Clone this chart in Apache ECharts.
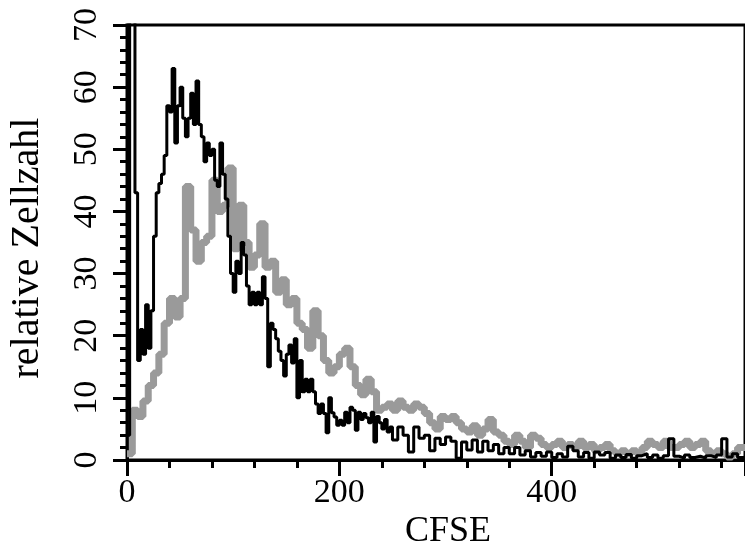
<!DOCTYPE html>
<html><head><meta charset="utf-8">
<script src="https://cdn.jsdelivr.net/npm/echarts@6/dist/echarts.min.js"></script>
<style>
html,body{margin:0;padding:0;background:#fff}
#wrap{position:relative;width:745px;height:549px}
.layer{position:absolute;left:0;top:0;width:745px;height:549px}
</style>
</head><body>
<div id="wrap">
  <div id="axesLayer" class="layer"></div>
  <div id="dataLayer" class="layer"></div>
  <div id="minorLayer" class="layer"></div>
</div>
<script>
// Axis ticks and titles
const xTicks = [0, 200, 400];
const yTicks = [0, 10, 20, 30, 40, 50, 60, 70];
const xTitle = 'CFSE';
const yTitle = 'relative Zellzahl';

// Black histogram: first part read at 2.5-unit channels (CFSE 0 .. 247.5)
const blackFineStep = 2.5;
const blackFine = [
  4, 95, 95, 43, 16, 21, 17, 25, 18, 24,
  36, 43, 44.5, 46, 49, 57, 56, 63, 51, 57,
  60, 55, 52, 55, 59, 54, 61, 54, 52, 48,
  51, 49, 50, 45, 44, 51, 46, 42, 36, 30,
  27, 32, 30, 35, 33, 28, 25, 27, 25, 27,
  25, 29.5, 26, 15, 22, 21, 19.5, 17.5, 16, 13.5,
  17, 18.5, 15.6, 19.5, 10, 16, 11, 13, 11, 13,
  11, 9, 7.5, 9, 7.5, 4.4, 10, 7.6, 6.9, 5.6,
  6.4, 5.6, 7.7, 6, 8.5, 8, 4.8, 7.7, 6.5, 7.5,
  6.8, 6, 7.7, 2.9, 7, 6, 5, 6.5, 4.5, 5.3
];
// Black histogram: tail read at 5-unit channels (CFSE 250 .. 580)
const blackCoarseStart = 250;
const blackCoarseStep = 5;
const blackCoarse = [
  3.2, 5.3, 4, 1.3, 5.3, 3.5, 4, 1.5, 3.5, 2.5,
  3.7, 3, 0.3, 2.9, 1.6, 3.2, 1.3, 3, 1.5, 2.5,
  1, 2, 1, 2, 0.8, 1.5, 0.5, 1.2, 0.6, 1.3,
  0.4, 1, 0.5, 2.2, 1.5, 0.5, 1.2, 0.3, 1.3, 0.8,
  1.2, 0.3, 0.8, 0.4, 0.9, 0.3, 0.7, 1, 0.4, 0.8,
  0.3, 0.7, 3.4, 0.6, 0.3, 0.8, 0.4, 0.6, 0.3, 0.7,
  0.4, 0.8, 3.4, 0.5, 1, 0.4, 0.5
];
// Grey histogram read at 5-unit channels (CFSE 0 .. 580)
const greyStep = 5;
const grey = [
  1, 8, 7, 9.5, 12, 14, 17, 22, 26, 23,
  26, 44, 37, 32, 35, 36, 45, 40, 41, 47,
  34, 41, 35, 31, 33, 38, 31, 32, 27, 29,
  25, 26, 22, 21, 18, 24, 20, 16, 14, 15,
  17, 18, 15, 12, 10.5, 13, 11, 8, 8.5, 9,
  8, 9.5, 8.5, 8, 9, 8.5, 7.5, 6, 5, 7,
  6.5, 7, 6, 5, 4.5, 5.5, 4, 5, 6.5, 4.5,
  4, 3, 2.5, 4, 3, 2, 4, 3.5, 2.5, 2,
  2.5, 3, 2, 2.5, 2, 3, 2, 2.5, 1.5, 2,
  2.5, 1.5, 1, 1.5, 1, 1.5, 1, 2, 3, 2.5,
  2, 3, 2, 2, 2.5, 3, 2, 2.5, 3, 1.5,
  1, 1.5, 1, 0.5, 1, 2, 2
];
const xMax = 582;
const yMax = 70;

// Build [x, y] pairs from the channel grids
const blackData = blackFine.map((v, i) => [i * blackFineStep, v])
  .concat(blackCoarse.map((v, i) => [blackCoarseStart + i * blackCoarseStep, v]));
blackData.push([blackCoarseStart + blackCoarse.length * blackCoarseStep, blackCoarse[blackCoarse.length - 1]]);
const greyData = grey.map((v, i) => [i * greyStep, v]);
greyData.push([grey.length * greyStep, grey[grey.length - 1]]);

const FONT = 'Liberation Serif';
const GRID = {left: 127, top: 25, right: 0, bottom: 89, outerBoundsMode: 'none'};

// Layer 1: axes, ticks and tick labels
const axesChart = echarts.init(document.getElementById('axesLayer'), null, {renderer: 'canvas'});
axesChart.setOption({
  animation: false,
  backgroundColor: '#fff',
  grid: GRID,
  xAxis: {
    type: 'value', position: 'bottom', min: 0, max: xMax, interval: 200,
    axisLine: {show: true, lineStyle: {color: '#000', width: 3}},
    axisTick: {show: true, length: 16, lineStyle: {color: '#000', width: 3}},
    minorTick: {show: true, splitNumber: 5, length: 8, lineStyle: {color: '#000', width: 3}},
    splitLine: {show: false},
    axisLabel: {margin: 16, fontSize: 34, fontFamily: FONT, color: '#000', showMaxLabel: false}
  },
  yAxis: {
    type: 'value', min: 0, max: yMax, interval: 10,
    axisLine: {show: true, lineStyle: {color: '#000', width: 3}},
    axisTick: {show: true, length: 14, lineStyle: {color: '#000', width: 3}},
    splitLine: {show: false},
    axisLabel: {rotate: 90, margin: 23, fontSize: 34, fontFamily: FONT, color: '#000'}
  }
});

// Layer 2: the two histograms, frame and axis titles
const dataChart = echarts.init(document.getElementById('dataLayer'), null, {renderer: 'canvas'});
dataChart.setOption({
  animation: false,
  backgroundColor: 'transparent',
  grid: Object.assign({show: true, borderColor: '#000', borderWidth: 3, backgroundColor: 'transparent'}, GRID),
  xAxis: {type: 'value', min: 0, max: xMax, show: false},
  yAxis: {type: 'value', min: 0, max: yMax, show: false},
  graphic: [{
    type: 'text', x: 448, y: 532, silent: true,
    style: {text: xTitle, font: '36px "Liberation Serif"', fill: '#000',
      align: 'center', verticalAlign: 'middle', textAlign: 'center', textVerticalAlign: 'middle'}
  }, {
    type: 'text', x: 27, y: 248, rotation: Math.PI / 2, silent: true,
    style: {text: yTitle, font: '40px "Liberation Serif"', fill: '#000',
      align: 'center', verticalAlign: 'middle', textAlign: 'center', textVerticalAlign: 'middle'}
  }],
  series: [{
    name: 'grey', type: 'line', step: 'end', data: greyData, symbol: 'none', clip: true,
    lineStyle: {color: '#9a9a9a', width: 7}, z: 2
  }, {
    name: 'black', type: 'line', step: 'end', data: blackData, symbol: 'none', clip: true,
    lineStyle: {color: '#000', width: 3}, z: 3
  }]
});

// Layer 3: minor ticks of the count axis
const minorChart = echarts.init(document.getElementById('minorLayer'), null, {renderer: 'canvas'});
minorChart.setOption({
  animation: false,
  backgroundColor: 'transparent',
  grid: GRID,
  xAxis: {type: 'value', min: 0, max: xMax, show: false},
  yAxis: {
    type: 'value', min: 0, max: yMax, interval: 10,
    axisLine: {show: false}, axisTick: {show: false}, axisLabel: {show: false}, splitLine: {show: false},
    minorTick: {show: true, splitNumber: 5, length: 7, lineStyle: {color: '#000', width: 3}}
  }
});
</script>
</body></html>
